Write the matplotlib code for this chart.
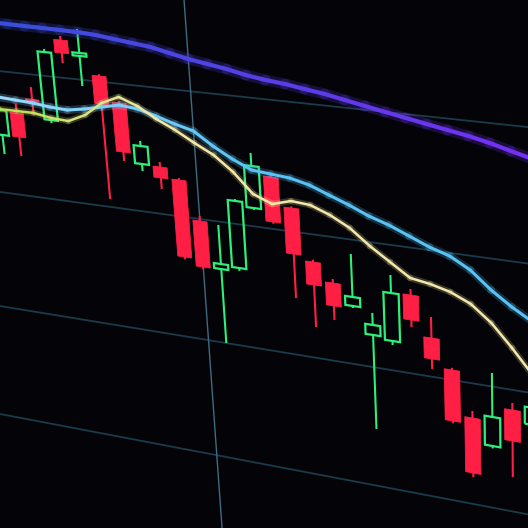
import numpy as np
import matplotlib
matplotlib.use("Agg")
import matplotlib.pyplot as plt
from matplotlib.patches import Rectangle
from matplotlib.collections import LineCollection
from matplotlib.transforms import Transform
from matplotlib.colors import to_rgb

# bar index (0 = the bar sitting on the vertical grid line), prices in grid units
T = np.arange(-11, 18)
OPEN = [2.481, 2.676, 2.800, 2.651, 3.295, 3.185, 3.044, 2.849, 2.384, 2.378,
        2.293, 1.984, 1.615, 1.645, 2.146, 2.408, 2.185, 1.780, 1.634, 1.473,
        1.263, 1.239, 1.629, 1.312, 1.081, 0.718, 0.516, 0.838, 0.745]
CLOSE = [2.684, 2.481, 2.784, 3.188, 3.194, 3.208, 2.826, 2.462, 2.527, 2.291,
         1.671, 1.610, 1.656, 2.183, 2.475, 2.056, 1.822, 1.596, 1.450, 1.545,
         1.344, 1.622, 1.431, 1.144, 0.665, 0.262, 0.754, 0.586, 0.882]
HIGH = [2.700, 2.740, 2.891, 3.204, 3.318, 3.385, 3.050, 2.855, 2.559, 2.410,
        2.300, 2.016, 1.964, 2.190, 2.568, 2.415, 2.190, 1.790, 1.658, 1.878,
        1.432, 1.756, 1.669, 1.471, 1.090, 0.767, 1.100, 0.886, 0.950]
LOW = [2.333, 2.334, 2.684, 2.635, 3.124, 2.959, 2.073, 2.399, 2.336, 2.211,
       1.660, 1.600, 1.009, 1.630, 2.140, 2.050, 1.476, 1.264, 1.345, 1.465,
       0.495, 1.215, 1.384, 1.071, 0.655, 0.237, 0.505, 0.298, 0.700]

# moving averages, one value per bar from -12 to 17
MA_T = np.arange(-12, 18)
MA_SLOW = [3.386, 3.383, 3.380, 3.377, 3.375, 3.372, 3.369, 3.360, 3.342, 3.325,
           3.308, 3.276, 3.245, 3.221, 3.198, 3.167, 3.145, 3.130, 3.107, 3.086,
           3.057, 3.028, 3.000, 2.972, 2.944, 2.917, 2.890, 2.856, 2.815, 2.775]
MA_MID = [2.790, 2.789, 2.780, 2.772, 2.755, 2.747, 2.771, 2.802, 2.833, 2.818,
          2.779, 2.733, 2.695, 2.595, 2.512, 2.444, 2.431, 2.418, 2.383, 2.324,
          2.267, 2.201, 2.152, 2.088, 2.024, 1.976, 1.890, 1.759, 1.651, 1.559]
MA_FAST = [2.701, 2.692, 2.692, 2.692, 2.668, 2.659, 2.723, 2.833, 2.896, 2.841,
           2.756, 2.686, 2.602, 2.526, 2.411, 2.257, 2.197, 2.240, 2.228, 2.170,
           2.089, 1.969, 1.866, 1.763, 1.738, 1.698, 1.628, 1.503, 1.332, 1.144]

PRICE_GRID = [0, 1, 2, 3]
TIME_GRID = [0]

# the screen is photographed at an angle: homography from (bar, price) to pixels
VANISH_TIME = (-4070.0, -360.0)
VANISH_PRICE = (539.0, 4930.0)
ORIGIN = (216.8, 455.2)
BAR_SCALE = -0.0040394
PRICE_SCALE = -0.025067

UP = "#2cf07a"
DOWN = "#ff1f45"
BG = "#030308"


class Perspective(Transform):
    input_dims = 2
    output_dims = 2
    is_separable = False
    has_inverse = True

    def __init__(self, h):
        super().__init__()
        self.h = np.asarray(h, float)

    def transform_non_affine(self, values):
        v = np.asarray(values, float).reshape(-1, 2)
        p = v @ self.h[:, :2].T + self.h[:, 2]
        return p[:, :2] / p[:, 2:]

    def inverted(self):
        return Perspective(np.linalg.inv(self.h))


H = np.column_stack([
    BAR_SCALE * np.array([*VANISH_TIME, 1.0]),
    PRICE_SCALE * np.array([*VANISH_PRICE, 1.0]),
    np.array([*ORIGIN, 1.0]),
])

fig = plt.figure(figsize=(5.28, 5.28), dpi=100, facecolor=BG)
ax = fig.add_axes([0, 0, 1, 1])
ax.set_facecolor(BG)
ax.set_autoscale_on(False)
tr = Perspective(H) + ax.transData

# grid
for p in PRICE_GRID:
    ax.plot([-40, 40], [p, p], color="#1b3a4a", lw=1.3, transform=tr, zorder=1)
for t in TIME_GRID:
    ax.plot([t, t], [-6, 10], color="#3d6c80", lw=1.0, transform=tr, zorder=1)


def blend(c1, c2, f):
    a, b = np.array(to_rgb(c1)), np.array(to_rgb(c2))
    return a + (b - a) * np.clip(f, 0, 1)[:, None]


def ma_line(vals, cols, lw):
    pts = np.column_stack([MA_T, vals])
    segs = np.stack([pts[:-1], pts[1:]], axis=1)
    ax.add_collection(LineCollection(segs, colors=cols, linewidths=lw * 2.6,
                                     alpha=0.22, transform=tr, capstyle="round", zorder=4))
    ax.add_collection(LineCollection(segs, colors=cols, linewidths=lw,
                                     transform=tr, capstyle="round", zorder=5))


# candles
w = 0.78
for t, o, c, hi, lo in zip(T, OPEN, CLOSE, HIGH, LOW):
    top, bot = max(o, c), min(o, c)
    if c >= o:
        ax.plot([t, t], [lo, bot], color=UP, lw=1.5, transform=tr, zorder=2)
        ax.plot([t, t], [top, hi], color=UP, lw=1.5, transform=tr, zorder=2)
        ax.add_patch(Rectangle((t - w / 2, bot), w, top - bot, fill=False,
                               edgecolor=UP, lw=1.6, transform=tr, zorder=3))
    else:
        ax.plot([t, t], [lo, hi], color=DOWN, lw=1.5, transform=tr, zorder=2)
        ax.add_patch(Rectangle((t - w / 2, bot), w, top - bot, facecolor=DOWN,
                               edgecolor=DOWN, lw=0.6, transform=tr, zorder=3))

# moving averages
f = (MA_T[:-1] - MA_T[0]) / (MA_T[-1] - MA_T[0])
ma_line(MA_SLOW, blend("#3550d8", "#7430f2", f), 3.0)
ma_line(MA_MID, blend("#9adcff", "#58c2f4", f * 2), 2.2)
ma_line(MA_FAST, blend("#b6dc4c", "#f3e8a8", f * 3), 1.8)

ax.set_xlim(0, 528)
ax.set_ylim(528, 0)
ax.axis("off")
fig.savefig("out.png", dpi=100, facecolor=BG)
